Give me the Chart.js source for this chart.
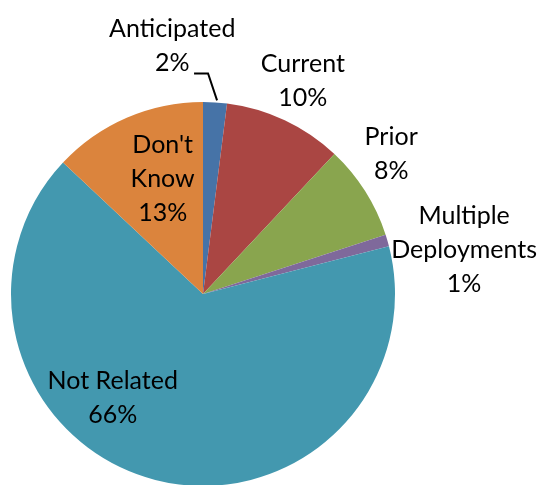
<!DOCTYPE html>
<html>
<head>
<meta charset="utf-8">
<script src="https://cdn.jsdelivr.net/npm/chart.js@4"></script>
<style>
    html, body { margin: 0; padding: 0; background: #fff; }
    #wrap { width: 541px; height: 485px; overflow: hidden; position: relative; }
    #pie { display: block; }
</style>
</head>
<body>
<div id="wrap"><canvas id="pie" width="541" height="490"></canvas></div>
<script>
// Chart data
const categories = ['Anticipated', 'Current', 'Prior', 'Multiple Deployments', 'Not Related', "Don't Know"];
const labelLines = [['Anticipated'], ['Current'], ['Prior'], ['Multiple', 'Deployments'], ['Not Related'], ["Don't", 'Know']];
const shares = [2, 10, 8, 1, 66, 13];
const sliceColors = ['#4673A7', '#AA4643', '#89A54E', '#7F699B', '#4398AF', '#DB843D'];

// label centre offsets from pie centre, in units of radius
const labelOffsets = [
    [-0.16, -1.29],
    [0.52, -1.11],
    [0.98, -0.73],
    [1.36, -0.23],
    [-0.47, 0.54],
    [-0.21, -0.60]
];

const pieLabels = {
    id: 'pieLabels',
    afterDatasetsDraw(chart) {
        const ctx = chart.ctx;
        const meta = chart.getDatasetMeta(0);
        const arc0 = meta.data[0];
        const cx = arc0.x, cy = arc0.y, r = arc0.outerRadius;
        const total = shares.reduce((a, b) => a + b, 0);
        const lh = 34;
        ctx.save();
        ctx.font = '25px Lato';
        ctx.fillStyle = '#000';
        ctx.textAlign = 'center';
        ctx.textBaseline = 'middle';
        meta.data.forEach((arc, i) => {
            const lines = labelLines[i].concat([Math.round(shares[i] / total * 100) + '%']);
            const x = cx + labelOffsets[i][0] * r;
            const y = cy + labelOffsets[i][1] * r - (lines.length - 1) * lh / 2;
            lines.forEach((t, k) => ctx.fillText(t, x, y + k * lh));
        });

        // leader line for the small Anticipated slice
        const a = arc0;
        const mid = (a.startAngle + a.endAngle) / 2;
        const ex = cx + Math.cos(mid) * r;
        const ey = cy + Math.sin(mid) * r;
        ctx.strokeStyle = '#000';
        ctx.lineWidth = 2;
        ctx.beginPath();
        ctx.moveTo(ex + 2, ey - 2);
        ctx.lineTo(ex - 7, ey - 29);
        ctx.lineTo(ex - 21, ey - 29);
        ctx.stroke();
        ctx.restore();
    }
};

new Chart(document.getElementById('pie').getContext('2d'), {
    type: 'pie',
    data: {
        labels: categories,
        datasets: [{
            data: shares,
            backgroundColor: sliceColors,
            borderWidth: 0
        }]
    },
    options: {
        responsive: false,
        animation: false,
        layout: { padding: { left: 11, right: 146, top: 102, bottom: 4 } },
        plugins: {
            legend: { display: false },
            tooltip: { enabled: false }
        }
    },
    plugins: [pieLabels]
});
</script>
</body>
</html>
